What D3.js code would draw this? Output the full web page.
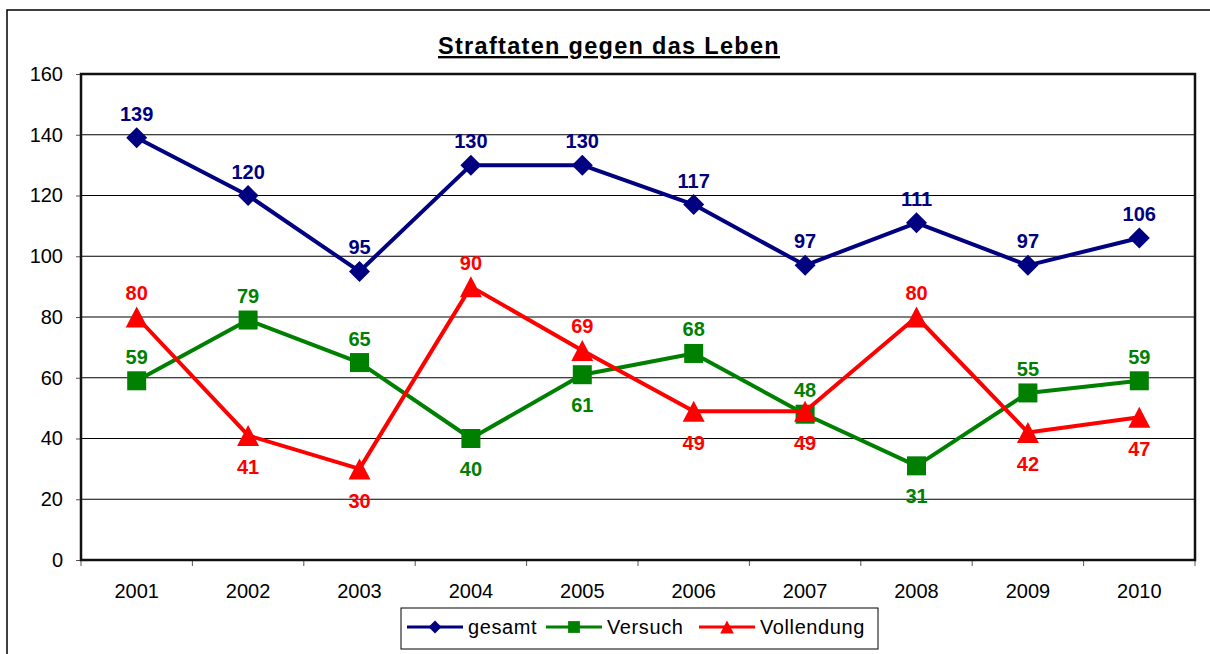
<!DOCTYPE html>
<html>
<head>
<meta charset="utf-8">
<script src="https://cdn.jsdelivr.net/npm/d3@7"></script>
<style>
  body { margin: 0; background: #fff; }
  svg { display: block; font-family: "Liberation Sans", Arial, sans-serif; }
</style>
</head>
<body>
<svg></svg>
<script>
const years = ["2001", "2002", "2003", "2004", "2005", "2006", "2007", "2008", "2009", "2010"];
const gesamt = [139, 120, 95, 130, 130, 117, 97, 111, 97, 106];
const versuch = [59, 79, 65, 40, 61, 68, 48, 31, 55, 59];
const vollendung = [80, 41, 30, 90, 69, 49, 49, 80, 42, 47];
// Beschriftung oben (1) oder unten (-1)
const versuchPos = [1, 1, 1, -1, -1, 1, 1, -1, 1, 1];
const vollendungPos = [1, -1, -1, 1, 1, -1, -1, 1, -1, -1];
const yTicks = [0, 20, 40, 60, 80, 100, 120, 140, 160];

const width = 1210;
const height = 654;
const plotLeft = 81, plotRight = 1195, plotTop = 74, plotBottom = 560;

const svg = d3.select("svg").attr("width", width).attr("height", height);

// äußerer Rahmen
svg.append("rect")
  .attr("x", 7).attr("y", 10)
  .attr("width", 1210).attr("height", 660)
  .attr("fill", "none").attr("stroke", "#000").attr("stroke-width", 1.5);

// Titel
svg.append("text")
  .attr("x", 609).attr("y", 54)
  .attr("text-anchor", "middle")
  .attr("font-size", 23.5).attr("font-weight", "bold")
  .attr("letter-spacing", "1.3px")
  .attr("text-decoration", "underline")
  .text("Straftaten gegen das Leben");

const scX = d3.scaleBand().domain(years).range([plotLeft, plotRight]);
const scY = d3.scaleLinear().domain([0, 160]).range([plotBottom, plotTop]);

// Gitterlinien
svg.append("g").selectAll("line")
  .data(yTicks.filter(d => d > 0 && d < 160))
  .join("line")
  .attr("x1", plotLeft).attr("x2", plotRight)
  .attr("y1", d => scY(d)).attr("y2", d => scY(d))
  .attr("stroke", "#000").attr("stroke-width", 1);

// Y-Achse
const axisY = svg.append("g")
  .attr("transform", `translate(${plotLeft},0)`)
  .call(d3.axisLeft(scY).tickValues(yTicks).tickSize(5).tickPadding(13));
axisY.select(".domain").remove();
axisY.selectAll("text")
  .attr("font-size", 20).attr("fill", "#000")
  .attr("font-family", "Liberation Sans, Arial, sans-serif");
axisY.selectAll("line").attr("stroke", "#555");

// X-Achse: Striche an den Bandgrenzen
const bounds = years.map(d => scX(d)).concat([plotRight]);
svg.append("g").selectAll("line")
  .data(bounds)
  .join("line")
  .attr("x1", d => d).attr("x2", d => d)
  .attr("y1", plotBottom).attr("y2", plotBottom + 6)
  .attr("stroke", "#555").attr("stroke-width", 1);

svg.append("g").selectAll("text")
  .data(years)
  .join("text")
  .attr("x", d => scX(d) + scX.bandwidth() / 2)
  .attr("y", plotBottom + 38)
  .attr("text-anchor", "middle")
  .attr("font-size", 20)
  .text(d => d);

// Rahmen des Plotbereichs
svg.append("rect")
  .attr("x", plotLeft).attr("y", plotTop)
  .attr("width", plotRight - plotLeft).attr("height", plotBottom - plotTop)
  .attr("fill", "none").attr("stroke", "#111").attr("stroke-width", 2.5);

const cx = (d, i) => scX(years[i]) + scX.bandwidth() / 2;

// Marker wie in Excel
const diamond = "M0,-10.5L10.5,0L0,10.5L-10.5,0Z";
const square = "M-9.5,-9.5H9.5V9.5H-9.5Z";
const triangle = "M0,-10.5L11,10.5L-11,10.5Z";

function drawSeries(values, color, sym, pos, below) {
  const line = d3.line().x(cx).y(d => scY(d));
  svg.append("path")
    .datum(values)
    .attr("d", line)
    .attr("fill", "none")
    .attr("stroke", color)
    .attr("stroke-width", 4)
    .attr("stroke-linejoin", "round");

  svg.append("g").selectAll("path")
    .data(values)
    .join("path")
    .attr("d", sym)
    .attr("transform", (d, i) => `translate(${cx(d, i)},${scY(d)})`)
    .attr("fill", color);

  svg.append("g").selectAll("text")
    .data(values)
    .join("text")
    .attr("x", cx)
    .attr("y", (d, i) => pos[i] > 0 ? scY(d) - 17 : scY(d) + below)
    .attr("text-anchor", "middle")
    .attr("font-size", 20).attr("font-weight", "bold")
    .attr("fill", color)
    .text(d => d);
}

drawSeries(gesamt, "#000080", diamond, gesamt.map(() => 1), 37);
drawSeries(versuch, "#008000", square, versuchPos, 37);
drawSeries(vollendung, "#FF0000", triangle, vollendungPos, 39);

// Legende
const legend = svg.append("g");
legend.append("rect")
  .attr("x", 401).attr("y", 608)
  .attr("width", 477).attr("height", 41)
  .attr("fill", "#fff").attr("stroke", "#000").attr("stroke-width", 1);

const legendItems = [
  { name: "gesamt", color: "#000080", sym: diamond, x: 407 },
  { name: "Versuch", color: "#008000", sym: square, x: 546 },
  { name: "Vollendung", color: "#FF0000", sym: triangle, x: 699 }
];
legendItems.forEach(it => {
  legend.append("line")
    .attr("x1", it.x).attr("x2", it.x + 56)
    .attr("y1", 627).attr("y2", 627)
    .attr("stroke", it.color).attr("stroke-width", 3);
  legend.append("path")
    .attr("d", it.sym)
    .attr("transform", `translate(${it.x + 28},627) scale(0.62)`)
    .attr("fill", it.color);
  legend.append("text")
    .attr("x", it.x + 61).attr("y", 634)
    .attr("font-size", 20)
    .attr("letter-spacing", "0.6px")
    .text(it.name);
});
</script>
</body>
</html>
